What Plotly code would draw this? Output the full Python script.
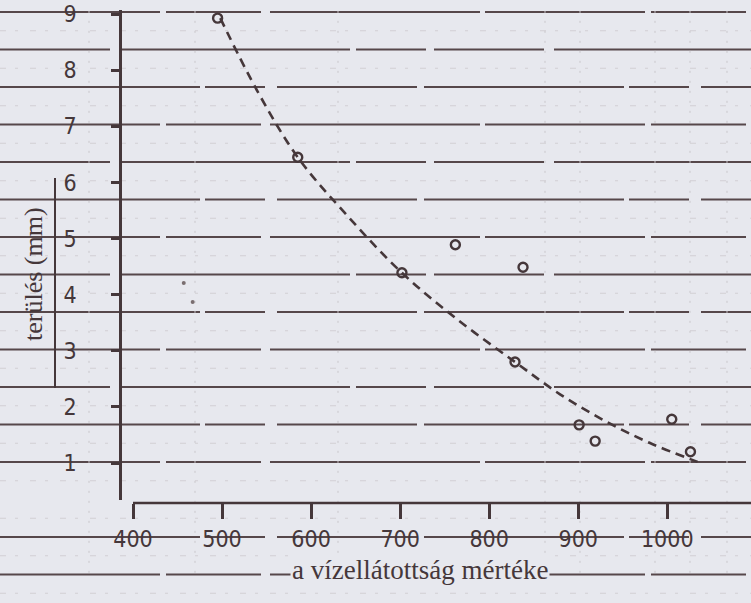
import plotly.graph_objects as go

# Measured points: water supply level vs. spread (mm)
water_supply = [495, 585, 702, 762, 838, 829, 901, 919, 1005, 1026]
spread_mm = [8.93, 6.45, 4.39, 4.89, 4.49, 2.80, 1.68, 1.39, 1.78, 1.20]

# Faint secondary readings
faint_x = [457, 467]
faint_y = [4.21, 3.87]

# Hand-drawn trend curve
curve_x = [498, 540, 585, 640, 702, 765, 829, 880, 930, 980, 1034]
curve_y = [8.93, 7.62, 6.45, 5.42, 4.39, 3.55, 2.80, 2.22, 1.75, 1.36, 1.02]

x_ticks = [400, 500, 600, 700, 800, 900, 1000]
y_ticks = [1, 2, 3, 4, 5, 6, 7, 8, 9]

INK = "#45373a"
PAPER = "#e7e8ee"
W, H = 751, 603
TICK_FONT = "Liberation Sans Narrow, DejaVu Sans Condensed, Liberation Sans, sans-serif"

fig = go.Figure()

fig.add_trace(go.Scatter(
    x=curve_x, y=curve_y, mode="lines", line_shape="spline",
    line=dict(color=INK, width=2.6, dash="9px,6px", smoothing=1.0),
    hoverinfo="skip", showlegend=False))

fig.add_trace(go.Scatter(
    x=faint_x, y=faint_y, mode="markers",
    marker=dict(size=4, color="#7a6e70"),
    showlegend=False))

fig.add_trace(go.Scatter(
    x=water_supply, y=spread_mm, mode="markers",
    marker=dict(size=9, symbol="circle-open", color=INK, line=dict(width=2.4, color=INK)),
    showlegend=False, cliponaxis=False))

shapes = []
# ruled lines of the paper sheet, with faint dotted rows between them
ruled_dash = ["160px,6px,95px,9px,210px,5px",
              "110px,10px,230px,6px,70px,8px",
              "200px,5px,60px,12px,140px,7px"]
py = 12.0
i = 0
while py < H:
    if abs(py - 501) > 5:
        shapes.append(dict(type="line", xref="paper", yref="paper",
                           x0=0, x1=1.0, y0=1 - py / H, y1=1 - py / H,
                           line=dict(color="#56474a", width=1.8, dash=ruled_dash[i % 3]),
                           layer="below"))
    mid = py + 18.75
    if mid < H:
        shapes.append(dict(type="line", xref="paper", yref="paper",
                           x0=0, x1=1.0, y0=1 - mid / H, y1=1 - mid / H,
                           line=dict(color="#d2cfd4", width=1, dash="6px,9px,3px,12px"),
                           layer="below"))
    py += 37.5
    i += 1

# faint vertical dotted marks on the sheet
for vx in [89, 195, 338, 545, 580, 655, 690, 727]:
    shapes.append(dict(type="line", xref="paper", yref="paper",
                       x0=vx / W, x1=vx / W, y0=0.05, y1=0.99,
                       line=dict(color="#c9c6cb", width=1, dash="2px,8px"),
                       layer="below"))

# bracket beside the y-axis title
shapes.append(dict(type="line", xref="paper", yref="paper",
                   x0=55 / W, x1=55 / W, y0=1 - 178 / H, y1=1 - 388 / H,
                   line=dict(color=INK, width=2)))

# x-axis baseline from 400 to the right edge
shapes.append(dict(type="line", xref="x", yref="paper",
                   x0=400, x1=1094, y0=1 - 503 / H, y1=1 - 503 / H,
                   line=dict(color=INK, width=2.6), layer="above"))

fig.update_layout(
    width=W, height=H,
    margin=dict(l=0, r=0, t=0, b=0),
    paper_bgcolor=PAPER, plot_bgcolor=PAPER,
    shapes=shapes,
    xaxis=dict(
        domain=[133 / W, 1.0], range=[400, 1094],
        anchor="free", position=1 - 503 / H, automargin=False,
        showgrid=False, zeroline=False, showline=False,
        tickmode="array", tickvals=x_ticks, ticktext=[str(v) for v in x_ticks],
        ticks="outside", ticklen=15, tickwidth=2.6, tickcolor=INK,
        ticklabelstandoff=0,
        tickfont=dict(family=TICK_FONT, size=23, color=INK),
    ),
    yaxis=dict(
        domain=[1 - 500 / H, 1 - 10 / H], range=[1 - 37 / 56.1, 1 + 453 / 56.1],
        anchor="free", position=120 / W, automargin=False,
        showgrid=False, zeroline=False,
        showline=True, linecolor=INK, linewidth=2.6,
        tickmode="array", tickvals=y_ticks, ticktext=[str(v) for v in y_ticks],
        ticks="outside", ticklen=8, tickwidth=3, tickcolor=INK,
        ticklabelstandoff=30,
        tickfont=dict(family=TICK_FONT, size=23, color=INK),
    ),
    annotations=[
        dict(text="terülés (mm)", textangle=-90, xref="paper", yref="paper",
             x=34 / W, y=1 - 274 / H, xanchor="center", yanchor="middle",
             showarrow=False,
             font=dict(family="Liberation Serif, serif", size=26, color=INK)),
        dict(text="a vízellátottság mértéke", xref="paper", yref="paper",
             x=420 / W, y=1 - 570 / H, xanchor="center", yanchor="middle",
             showarrow=False, bgcolor=PAPER,
             font=dict(family="Liberation Serif, serif", size=27, color=INK)),
    ],
)

fig.write_html("out.html")
